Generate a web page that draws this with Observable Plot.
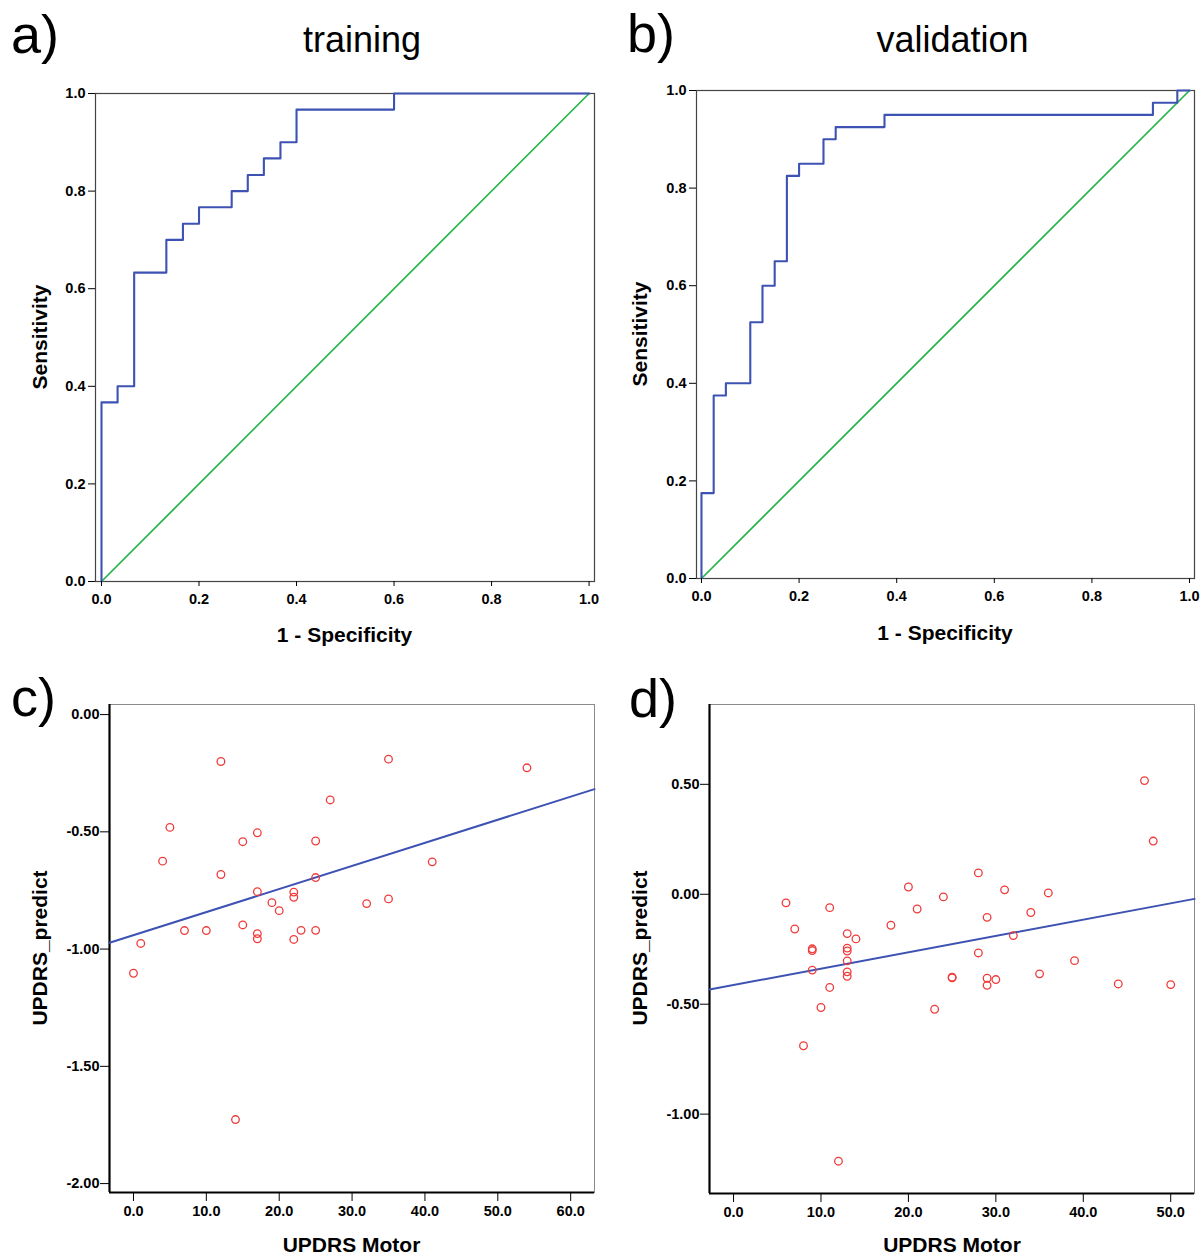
<!DOCTYPE html>
<html>
<head>
<meta charset="utf-8">
<script src="https://cdn.jsdelivr.net/npm/d3@7"></script>
<script src="https://cdn.jsdelivr.net/npm/@observablehq/plot@0.6"></script>
<style>
  html, body { margin: 0; padding: 0; background: #fff; }
  #root { position: relative; width: 1200px; height: 1255px; overflow: hidden; background: #fff; font-family: "Liberation Sans", Arial, sans-serif; color: #000; }
  .abs { position: absolute; white-space: nowrap; line-height: 1; }
  .panel { position: absolute; }
  .panel svg { display: block; }
  .letter { font-size: 54px; font-weight: normal; }
  .title { font-size: 36px; transform: translateX(-50%); }
  .axt { font-size: 21px; font-weight: bold; transform: translateX(-50%); }
  .axr { font-size: 21px; font-weight: bold; transform: translate(-50%, -50%) rotate(-90deg); }
</style>
</head>
<body>
<div id="root"></div>
<script>
// ---------- DATA ----------
// ROC, training (corner points of the step curve)
const trainFpr = [0, 0, 0.033, 0.033, 0.067, 0.067, 0.133, 0.133, 0.167, 0.167, 0.2, 0.2, 0.267, 0.267, 0.3, 0.3, 0.333, 0.333, 0.367, 0.367, 0.4, 0.4, 0.6, 0.6, 1.0];
const trainTpr = [0, 0.367, 0.367, 0.4, 0.4, 0.633, 0.633, 0.7, 0.7, 0.733, 0.733, 0.767, 0.767, 0.8, 0.8, 0.833, 0.833, 0.867, 0.867, 0.9, 0.9, 0.967, 0.967, 1.0, 1.0];
// ROC, validation
const validFpr = [0, 0, 0.025, 0.025, 0.05, 0.05, 0.1, 0.1, 0.125, 0.125, 0.15, 0.15, 0.175, 0.175, 0.2, 0.2, 0.25, 0.25, 0.275, 0.275, 0.375, 0.375, 0.925, 0.925, 0.975, 0.975, 1.0];
const validTpr = [0, 0.175, 0.175, 0.375, 0.375, 0.4, 0.4, 0.525, 0.525, 0.6, 0.6, 0.65, 0.65, 0.825, 0.825, 0.85, 0.85, 0.9, 0.9, 0.925, 0.925, 0.95, 0.95, 0.975, 0.975, 1.0, 1.0];
// Reference diagonal
const refX = [0, 1];
const refY = [0, 1];
const rocTicks = [0, 0.2, 0.4, 0.6, 0.8, 1.0];

// Scatter c (training)
const cMotor = [12, 35, 54, 27, 5, 17, 15, 25, 4, 41, 12, 25, 17, 22, 22, 19, 20, 32, 35, 15, 7, 10, 17, 17, 23, 25, 22, 1, 0, 14];
const cPred  = [-0.200, -0.190, -0.227, -0.364, -0.481, -0.504, -0.542, -0.539, -0.625, -0.628, -0.682, -0.695, -0.755, -0.757, -0.779, -0.802, -0.836, -0.806, -0.786, -0.897, -0.921, -0.921, -0.934, -0.956, -0.920, -0.920, -0.959, -0.976, -1.103, -1.727];
const cFitX = [-3.29, 63.27];
const cFitY = [-0.973, -0.318];
const cXTicks = [0, 10, 20, 30, 40, 50, 60];
const cYTicks = [0, -0.5, -1.0, -1.5, -2.0];
const cXDomain = [-3.29, 63.27];
const cYDomain = [-2.038, 0.043];

// Scatter d (validation)
const dMotor = [47, 48, 28, 20, 31, 36, 24, 6, 11, 21, 34, 29, 18, 7, 13, 32, 14, 9, 9, 13, 13, 28, 13, 39, 9, 13, 13, 25, 25, 29, 29, 30, 35, 44, 50, 11, 10, 23, 8, 12];
const dPred  = [0.517, 0.242, 0.097, 0.033, 0.020, 0.006, -0.012, -0.039, -0.061, -0.067, -0.083, -0.105, -0.141, -0.158, -0.179, -0.188, -0.203, -0.248, -0.256, -0.245, -0.258, -0.267, -0.303, -0.302, -0.345, -0.353, -0.373, -0.377, -0.380, -0.382, -0.414, -0.388, -0.362, -0.408, -0.411, -0.424, -0.515, -0.523, -0.689, -1.214];
const dFitX = [-2.75, 52.72];
const dFitY = [-0.433, -0.021];
const dXTicks = [0, 10, 20, 30, 40, 50];
const dYTicks = [0.5, 0, -0.5, -1.0];
const dXDomain = [-2.75, 52.72];
const dYDomain = [-1.361, 0.863];

// ---------- STYLE ----------
const BLUE = "#3d52b3";
const GREEN = "#26b548";
const RED = "#f03a3a";
const FONT = "'Liberation Sans', Arial, sans-serif";
const tickStyle = {fontFamily: FONT, fontSize: "14.5px", fontWeight: "bold", color: "#000", background: "transparent", overflow: "visible"};

const zip = (xs, ys) => xs.map((x, i) => ({x, y: ys[i]}));
const root = document.getElementById("root");

function place(node, left, top) {
  const d = document.createElement("div");
  d.className = "panel";
  d.style.left = left + "px";
  d.style.top = top + "px";
  d.appendChild(node);
  root.appendChild(d);
}
function txt(cls, s, left, top) {
  const d = document.createElement("div");
  d.className = "abs " + cls;
  d.textContent = s;
  d.style.left = left + "px";
  d.style.top = top + "px";
  root.appendChild(d);
}

function rocPlot(fpr, tpr, xDomain, m) {
  return Plot.plot({
    width: 600, height: 660,
    marginTop: m.t, marginRight: m.r, marginBottom: m.b, marginLeft: m.l,
    x: {domain: xDomain},
    y: {domain: [0, 1]},
    style: tickStyle,
    marks: [
      Plot.frame({stroke: "#444", strokeWidth: 1.2}),
      Plot.line(zip(refX, refY), {x: "x", y: "y", stroke: GREEN, strokeWidth: 1.7}),
      Plot.line(zip(fpr, tpr), {x: "x", y: "y", stroke: BLUE, strokeWidth: 2.1}),
      Plot.axisX(rocTicks, {tickSize: 5, tickPadding: 7, fontSize: 14.5, tickFormat: d => d.toFixed(1), label: null}),
      Plot.axisY(rocTicks, {tickSize: 7, tickPadding: 3, fontSize: 14.5, tickFormat: d => d.toFixed(1), label: null})
    ]
  });
}

function scatterPlot(xs, ys, fx, fy, xDomain, yDomain, xTicks, yTicks, m) {
  return Plot.plot({
    width: 600, height: 595,
    marginTop: m.t, marginRight: m.r, marginBottom: m.b, marginLeft: m.l,
    x: {domain: xDomain},
    y: {domain: yDomain},
    style: tickStyle,
    marks: [
      Plot.frame({stroke: "#8a8a8a", strokeWidth: 1}),
      Plot.ruleX([xDomain[0]], {stroke: "#000", strokeWidth: 2.2}),
      Plot.ruleY([yDomain[0]], {stroke: "#000", strokeWidth: 2.2}),
      Plot.line(zip(fx, fy), {x: "x", y: "y", stroke: BLUE, strokeWidth: 2}),
      Plot.dot(zip(xs, ys), {x: "x", y: "y", r: 3.8, stroke: RED, strokeWidth: 1.3, fill: "none"}),
      Plot.axisX(xTicks, {tickSize: 9, tickPadding: 4, fontSize: 14.5, tickFormat: d => d.toFixed(1), label: null}),
      Plot.axisY(yTicks, {tickSize: 9, tickPadding: 1, fontSize: 14.5, tickFormat: d => d.toFixed(2), label: null})
    ]
  });
}

place(rocPlot(trainFpr, trainTpr, [-0.0123, 1.0111], {t: 93, r: 6, b: 79, l: 95}), 0, 0);
place(rocPlot(validFpr, validTpr, [-0.0102, 1.0102], {t: 90, r: 6, b: 82, l: 96}), 600, 0);
place(scatterPlot(cMotor, cPred, cFitX, cFitY, cXDomain, cYDomain, cXTicks, cYTicks, {t: 44, r: 6, b: 63, l: 109}), 0, 660);
place(scatterPlot(dMotor, dPred, dFitX, dFitY, dXDomain, dYDomain, dXTicks, dYTicks, {t: 44, r: 6, b: 62, l: 109}), 600, 660);

// Panel letters and titles
txt("letter", "a)", 11, 7);
txt("letter", "b)", 627, 6);
txt("letter", "c)", 11, 670);
txt("letter", "d)", 629, 671);
txt("title", "training", 362, 21.5);
txt("title", "validation", 952.5, 21.5);

// Axis titles
txt("axt", "1 - Specificity", 344.5, 624);
txt("axt", "1 - Specificity", 945, 622);
txt("axt", "UPDRS Motor", 351.5, 1234);
txt("axt", "UPDRS Motor", 952, 1234);
txt("axr", "Sensitivity", 38.7, 337);
txt("axr", "Sensitivity", 638.7, 334);
txt("axr", "UPDRS_predict", 38.7, 948);
txt("axr", "UPDRS_predict", 638.7, 948);
</script>
</body>
</html>
